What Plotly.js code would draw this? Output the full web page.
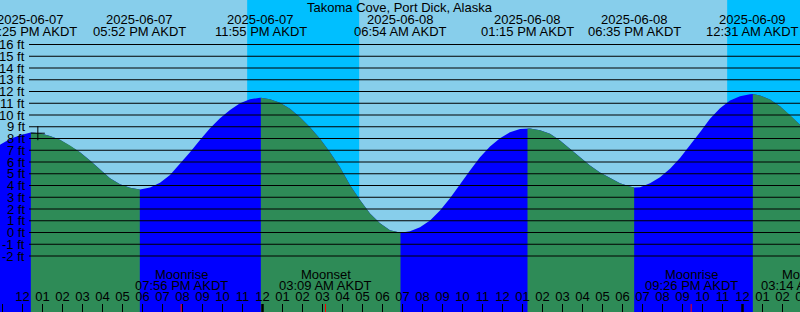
<!DOCTYPE html>
<html>
<head>
<meta charset="utf-8">
<script src="https://cdn.plot.ly/plotly-3.0.1.min.js"></script>
<style>
html,body{margin:0;padding:0;overflow:hidden;background:#87CEEB;}
#chart{width:840px;height:312px;}
</style>
</head>
<body>
<div id="chart"></div>
<script>
// ---------------- data ----------------
const stationName = 'Takoma Cove, Port Dick, Alaska';
const sampleStart = '2025-06-07 10:52:30';
const sampleStepMinutes = 30;
const tideHeights = [
  7.46, 7.95, 8.28, 8.48, 8.45, 8.22, 7.90, 7.40, 6.83, 6.13,
  5.35, 4.62, 4.10, 3.80, 3.65, 3.84, 4.24, 4.89, 5.83, 6.82,
  7.87, 8.87, 9.72, 10.43, 11.00, 11.34, 11.47, 11.35, 11.04, 10.53,
  9.81, 8.96, 7.97, 6.83, 5.55, 4.05, 2.76, 1.62, 0.78, 0.19,
  0.00, 0.11, 0.45, 1.02, 1.87, 2.92, 4.14, 5.28, 6.41, 7.32,
  8.03, 8.54, 8.80, 8.85, 8.71, 8.40, 7.83, 7.12, 6.41, 5.70,
  5.10, 4.62, 4.20, 3.91, 3.86, 4.20, 4.71, 5.42, 6.33, 7.40,
  8.54, 9.68, 10.58, 11.23, 11.60, 11.77, 11.66, 11.32, 10.75, 10.00,
  9.17
];
const eventTimes = ['2025-06-07 12:25', '2025-06-07 17:52', '2025-06-07 23:55',
                    '2025-06-08 06:54', '2025-06-08 13:15', '2025-06-08 18:35', '2025-06-09 00:31'];
const eventKinds = ['High', 'Low', 'High', 'Low', 'High', 'Low', 'High'];
const eventHeights = [8.50, 3.65, 11.47, -0.02, 8.86, 3.82, 11.78];
const eventLabelDates = ['2025-06-07', '2025-06-07', '2025-06-07', '2025-06-08', '2025-06-08', '2025-06-08', '2025-06-09'];
const eventLabelTimes = ['12:25 PM AKDT', '05:52 PM AKDT', '11:55 PM AKDT', '06:54 AM AKDT', '01:15 PM AKDT', '06:35 PM AKDT', '12:31 AM AKDT'];
const moonTimes = ['2025-06-07 19:56', '2025-06-08 03:09', '2025-06-08 21:26', '2025-06-09 03:14'];
const moonKinds = ['Moonrise', 'Moonset', 'Moonrise', 'Moonset'];
const moonLabelTimes = ['07:56 PM AKDT', '03:09 AM AKDT', '09:26 PM AKDT', '03:14 AM AKDT'];
const sunsetTimes = ['2025-06-07 23:14', '2025-06-08 23:14'];
const sunriseTimes = ['2025-06-08 04:50', '2025-06-09 04:50'];
const midnightTimes = ['2025-06-08 00:00', '2025-06-09 00:00'];
const levelTicks = [16, 15, 14, 13, 12, 11, 10, 9, 8, 7, 6, 5, 4, 3, 2, 1, 0, -1, -2];
const levelLabels = ['16 ft', '15 ft', '14 ft', '13 ft', '12 ft', '11 ft', '10 ft', '9 ft', '8 ft', '7 ft',
                     '6 ft', '5 ft', '4 ft', '3 ft', '2 ft', '1 ft', '0 ft', '-1 ft', '-2 ft'];
const markTime = '2025-06-07 12:46';
const markHeight = 8.45;

// ---------------- styles / layout constants ----------------
const W = 840, H = 312;
const FONT = 'Liberation Sans, Arial, sans-serif';
const DAY = '#87CEEB', NIGHT = '#00BFFF', RISE = '#0000FF', FALL = '#2E8B57';
const HOUR = 3600000;

function toMs(s) { return Date.parse(s.replace(' ', 'T') + (s.length === 16 ? ':00' : '') + 'Z'); }
function py(p) { return 1 - p / H; }

const x0 = toMs(sampleStart);
const xEnd = x0 + (W / 20) * HOUR;
const yRange = [-6.766, 19.787];
const bottom = -8;

// curve points = samples + events, sorted by time
let pts = tideHeights.map((h, i) => ({t: x0 + i * sampleStepMinutes * 60000, h: h}));
eventTimes.forEach((s, i) => pts.push({t: toMs(s), h: eventHeights[i]}));
pts.sort((a, b) => a.t - b.t);

const traces = [];
// full fill (rising colour)
traces.push({
  type: 'scatter', mode: 'lines', fill: 'toself', fillcolor: RISE, line: {width: 0},
  x: pts.map(p => p.t).concat([pts[pts.length - 1].t, pts[0].t]),
  y: pts.map(p => p.h).concat([bottom, bottom]), hoverinfo: 'skip'
});
// falling segments
eventKinds.forEach((k, i) => {
  if (k !== 'High') return;
  const ts = toMs(eventTimes[i]);
  const te = i + 1 < eventTimes.length ? toMs(eventTimes[i + 1]) : Infinity;
  const seg = pts.filter(p => p.t >= ts && p.t <= te);
  if (seg.length < 2) return;
  traces.push({
    type: 'scatter', mode: 'lines', fill: 'toself', fillcolor: FALL, line: {width: 0},
    x: seg.map(p => p.t).concat([seg[seg.length - 1].t, seg[0].t]),
    y: seg.map(p => p.h).concat([bottom, bottom]), hoverinfo: 'skip'
  });
});
// current-time mark
traces.push({
  type: 'scatter', mode: 'markers', x: [toMs(markTime)], y: [markHeight],
  marker: {symbol: 'cross-thin', size: 10, color: '#000', line: {width: 1, color: '#000'}},
  hoverinfo: 'skip'
});

const shapes = [];
sunsetTimes.forEach((s, i) => shapes.push({
  type: 'rect', xref: 'x', yref: 'paper', x0: toMs(s), x1: toMs(sunriseTimes[i]), y0: 0, y1: 1,
  fillcolor: NIGHT, line: {width: 0}, layer: 'below'
}));
levelTicks.forEach(v => shapes.push({
  type: 'line', xref: 'paper', yref: 'y', x0: 29 / W, x1: 1, y0: v, y1: v,
  line: {color: '#000', width: 1}, layer: 'above'
}));
midnightTimes.forEach(s => shapes.push({
  type: 'line', xref: 'x', yref: 'paper', x0: toMs(s), x1: toMs(s), y0: 0, y1: 8 / H,
  line: {color: '#000', width: 2.5}, layer: 'above'
}));
moonTimes.forEach(s => shapes.push({
  type: 'line', xref: 'x', yref: 'paper', x0: toMs(s), x1: toMs(s), y0: 0, y1: 8 / H,
  line: {color: '#FF0000', width: 1}, layer: 'above'
}));

const font = {family: FONT, size: 13, color: '#000'};
const annotations = [];
levelTicks.forEach((v, i) => annotations.push({
  xref: 'paper', yref: 'y', x: 27 / W, y: v, xanchor: 'right', yanchor: 'middle',
  text: levelLabels[i], showarrow: false, font: font
}));
eventTimes.forEach((s, i) => {
  annotations.push({xref: 'x', yref: 'paper', x: toMs(s), y: py(19), xanchor: 'center', yanchor: 'middle',
    text: eventLabelDates[i], showarrow: false, font: font});
  annotations.push({xref: 'x', yref: 'paper', x: toMs(s), y: py(31.5), xanchor: 'center', yanchor: 'middle',
    text: eventLabelTimes[i], showarrow: false, font: font});
});
moonTimes.forEach((s, i) => {
  annotations.push({xref: 'x', yref: 'paper', x: toMs(s), y: py(274), xanchor: 'center', yanchor: 'middle',
    text: moonKinds[i], showarrow: false, font: font});
  annotations.push({xref: 'x', yref: 'paper', x: toMs(s), y: py(285.5), xanchor: 'center', yanchor: 'middle',
    text: moonLabelTimes[i], showarrow: false, font: font});
});
annotations.push({xref: 'paper', yref: 'paper', x: 400 / W, y: py(7.5), xanchor: 'center', yanchor: 'middle',
  text: stationName, showarrow: false, font: font});

const layout = {
  width: W, height: H, margin: {l: 0, r: 0, t: 0, b: 0, pad: 0},
  paper_bgcolor: DAY, plot_bgcolor: DAY, showlegend: false,
  xaxis: {
    type: 'date', range: [x0, xEnd], showgrid: false, zeroline: false, showline: false,
    ticks: 'inside', ticklen: 8, tickwidth: 1, tickcolor: '#000',
    tick0: '2025-06-07 00:00:00', dtick: HOUR, tickformat: '%I',
    ticklabelposition: 'inside', tickfont: font, layer: 'above traces', fixedrange: true
  },
  yaxis: {range: yRange, visible: false, fixedrange: true},
  shapes: shapes, annotations: annotations
};

Plotly.newPlot('chart', traces, layout, {staticPlot: true, displayModeBar: false});
</script>
</body>
</html>
